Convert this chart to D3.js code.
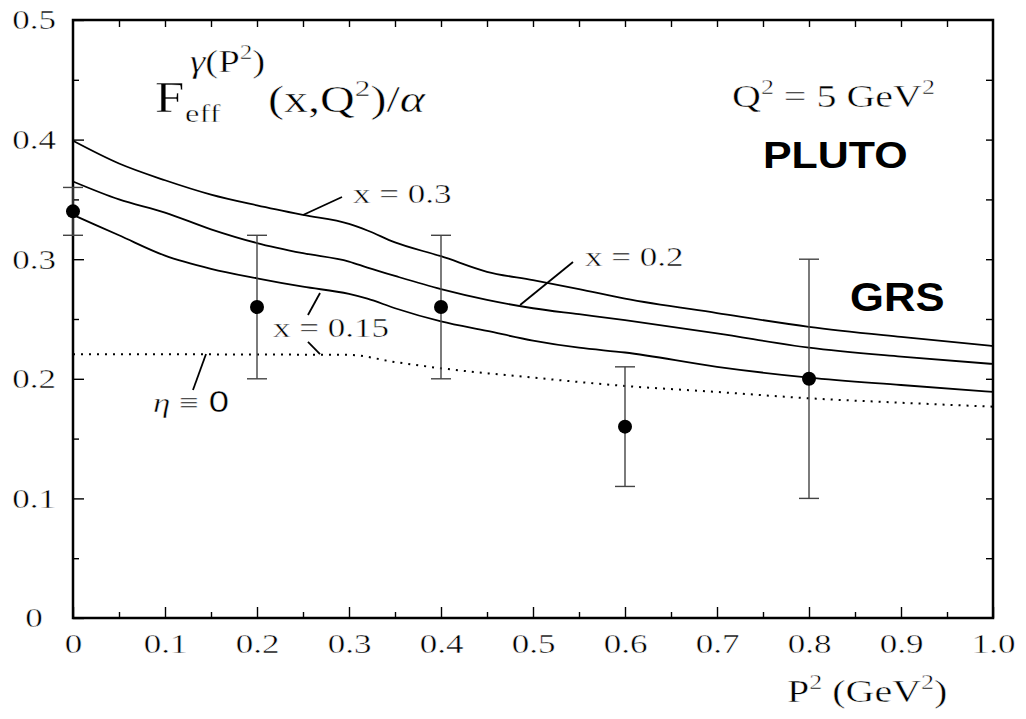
<!DOCTYPE html>
<meta charset="utf-8">
<style>
body { margin: 0; background: #fff; }
text { fill: #000; }
.serif { font-family: "Liberation Serif", "DejaVu Serif", serif; stroke: #fff; stroke-width: 0.45; }
.bold { font-family: "Liberation Sans", Arial, sans-serif; font-weight: bold; }
.sans { font-family: "DejaVu Sans", "Liberation Sans", sans-serif; }
.curve { fill: none; stroke: #000; stroke-width: 1.8; }
.eta { fill: none; stroke: #000; stroke-width: 2; stroke-dasharray: 2,6; }
.err { stroke: #444; stroke-width: 1.4; }
.lead { stroke: #000; stroke-width: 1.8; }
.tick line { stroke: #000; stroke-width: 1.4; }
</style>
<body>
<script src="https://d3js.org/d3.v7.min.js"></script>
<script>

// GRS curves, F_eff/alpha against P^2 at Q^2 = 5 GeV^2
var p2Grid = [0, 0.05, 0.1, 0.15, 0.2, 0.25, 0.3, 0.32, 0.35, 0.4, 0.45, 0.5, 0.55, 0.6, 0.7, 0.8, 0.9, 1.0];
var fx030 = [0.399, 0.380, 0.366, 0.354, 0.345, 0.337, 0.3295, 0.324, 0.314, 0.3025, 0.2895, 0.2825, 0.275, 0.267, 0.255, 0.2435, 0.235, 0.2274];
var fx020 = [0.365, 0.350, 0.339, 0.325, 0.3135, 0.305, 0.298, 0.293, 0.286, 0.275, 0.266, 0.259, 0.254, 0.249, 0.238, 0.226, 0.2185, 0.2124];
var fx015 = [0.337, 0.320, 0.303, 0.292, 0.284, 0.277, 0.271, 0.267, 0.259, 0.248, 0.240, 0.232, 0.226, 0.222, 0.210, 0.201, 0.1948, 0.189];

// eta = 0 curve (dotted)
var etaP2 = [0, 0.1, 0.2, 0.3, 0.35, 0.4, 0.5, 0.6, 0.7, 0.8, 0.9, 1.0];
var etaF = [0.2205, 0.2205, 0.2203, 0.220, 0.214, 0.2088, 0.201, 0.194, 0.189, 0.1837, 0.180, 0.1767];

// PLUTO measurements
var plutoP2 = [0, 0.2, 0.4, 0.6, 0.8];
var plutoF = [0.34, 0.26, 0.26, 0.16, 0.20];
var plutoLo = [0.32, 0.20, 0.20, 0.11, 0.10];
var plutoHi = [0.36, 0.32, 0.32, 0.21, 0.30];

var xTicks = [0, 0.1, 0.2, 0.3, 0.4, 0.5, 0.6, 0.7, 0.8, 0.9, 1.0];
var xTickLabels = ["0", "0.1", "0.2", "0.3", "0.4", "0.5", "0.6", "0.7", "0.8", "0.9", "1.0"];
var yTicks = [0, 0.1, 0.2, 0.3, 0.4, 0.5];
var yTickLabels = ["0", "0.1", "0.2", "0.3", "0.4", "0.5"];

var margin = {top: 20, right: 33, bottom: 101, left: 73},
    width = 1026 - margin.left - margin.right,
    height = 719 - margin.top - margin.bottom;

var sx = 1.25; // horizontal stretch of the lettering

var svg = d3.select("body").append("svg")
    .attr("width", 1026)
    .attr("height", 719);

var g = svg.append("g")
    .attr("transform", "translate(" + margin.left + "," + margin.top + ")");

var x = d3.scaleLinear().domain([0, 1]).range([0, width]);
var y = d3.scaleLinear().domain([0, 0.5]).range([height, 0]);

var minorX = d3.range(0, 1.0001, 0.05).filter(function(v) { return Math.abs(v * 10 - Math.round(v * 10)) > 0.01; });
var minorY = d3.range(0, 0.5001, 0.05).filter(function(v) { return Math.abs(v * 20 % 2 - 1) < 0.01; });
var allX = d3.range(0.05, 0.99, 0.05);
var allY = d3.range(0.05, 0.49, 0.05);

function fmt(labels, ticks) {
  return function(d) { return labels[ticks.indexOf(d)]; };
}

// bottom axis, major with labels
var xAxis = g.append("g")
    .attr("transform", "translate(0," + height + ")")
    .call(d3.axisBottom(x).tickValues(xTicks).tickSize(-11).tickSizeOuter(0)
      .tickPadding(15).tickFormat(fmt(xTickLabels, xTicks)));
xAxis.selectAll("text")
    .attr("class", "serif")
    .attr("font-size", 28)
    .attr("transform", "scale(" + sx + ",1)");
g.append("g")
    .attr("transform", "translate(0," + height + ")")
    .call(d3.axisBottom(x).tickValues(minorX).tickSize(-6).tickSizeOuter(0).tickFormat(""));

// left axis
var yAxis = g.append("g")
    .call(d3.axisLeft(y).tickValues(yTicks).tickSize(-11).tickSizeOuter(0)
      .tickFormat(fmt(yTickLabels, yTicks)));
yAxis.selectAll("text")
    .attr("class", "serif")
    .attr("font-size", 28)
    .attr("text-anchor", "middle")
    .attr("x", -39 / sx)
    .attr("transform", "scale(" + sx + ",1)");
g.append("g")
    .call(d3.axisLeft(y).tickValues(minorY).tickSize(-6).tickSizeOuter(0).tickFormat(""));

// top and right: short inward ticks only
g.append("g")
    .call(d3.axisTop(x).tickValues(allX).tickSize(-7).tickSizeOuter(0).tickFormat(""));
g.append("g")
    .attr("transform", "translate(" + width + ",0)")
    .call(d3.axisRight(y).tickValues(allY).tickSize(-7).tickSizeOuter(0).tickFormat(""));

g.selectAll(".domain").remove();

// frame
g.append("rect")
    .attr("width", width)
    .attr("height", height)
    .attr("fill", "none")
    .attr("stroke", "#000")
    .attr("stroke-width", 2.5);

// curves
var line = d3.line()
    .x(function(d) { return x(d[0]); })
    .y(function(d) { return y(d[1]); })
    .curve(d3.curveMonotoneX);

[fx030, fx020, fx015].forEach(function(vals) {
  g.append("path")
      .attr("class", "curve")
      .attr("d", line(d3.zip(p2Grid, vals)));
});

g.append("path")
    .attr("class", "eta")
    .attr("d", line(d3.zip(etaP2, etaF)));

// error bars and points
var pts = d3.range(plutoP2.length).map(function(i) {
  return {p: plutoP2[i], f: plutoF[i], lo: plutoLo[i], hi: plutoHi[i]};
});

var eb = g.append("g").selectAll("g").data(pts).join("g");
eb.append("line").attr("class", "err")
    .attr("x1", function(d) { return x(d.p); }).attr("x2", function(d) { return x(d.p); })
    .attr("y1", function(d) { return y(d.lo); }).attr("y2", function(d) { return y(d.hi); });
eb.append("line").attr("class", "err")
    .attr("x1", function(d) { return x(d.p) - 10; }).attr("x2", function(d) { return x(d.p) + 10; })
    .attr("y1", function(d) { return y(d.lo); }).attr("y2", function(d) { return y(d.lo); });
eb.append("line").attr("class", "err")
    .attr("x1", function(d) { return x(d.p) - 10; }).attr("x2", function(d) { return x(d.p) + 10; })
    .attr("y1", function(d) { return y(d.hi); }).attr("y2", function(d) { return y(d.hi); });
eb.append("circle")
    .attr("cx", function(d) { return x(d.p); })
    .attr("cy", function(d) { return y(d.f); })
    .attr("r", 7)
    .attr("fill", "#000");

// leader lines, in data units
function lead(a, b, c, d) {
  g.append("line").attr("class", "lead")
      .attr("x1", x(a)).attr("y1", y(b))
      .attr("x2", x(c)).attr("y2", y(d));
}
lead(0.2924, 0.352, 0.25, 0.337);
lead(0.5435, 0.2977, 0.486, 0.2617);
lead(0.2685, 0.2717, 0.2554, 0.2533);
lead(0.2554, 0.2308, 0.2685, 0.2207);
lead(0.1304, 0.1906, 0.1446, 0.2207);

// stretched text helper; (px, py) is the anchor in page pixels
function label(px, py, cls, size, stretch, anchor) {
  return svg.append("g")
      .attr("transform", "translate(" + px + "," + py + ") scale(" + (stretch || sx) + ",1)")
    .append("text")
      .attr("class", cls)
      .attr("font-size", size)
      .attr("text-anchor", anchor || "start");
}
function sup(t, size, str) {
  t.append("tspan").attr("font-size", size * 0.65).attr("dy", -size * 0.42).text(str);
  return t.append("tspan").attr("dy", size * 0.42);
}

var lx = function(v) { return margin.left + x(v); };
var ly = function(v) { return margin.top + y(v); };

label(lx(0.3043), ly(0.347), "serif", 28).text("x = 0.3");
label(lx(0.5565), ly(0.2943), "serif", 28).text("x = 0.2");
label(lx(0.2174), ly(0.235), "serif", 28).text("x = 0.15");

var eta = label(lx(0.087), ly(0.1722), "serif", 28);
eta.append("tspan").attr("font-style", "italic").text("η");
eta.append("tspan").text(" ≡ ");
eta.append("tspan").attr("class", "sans").text("0");

var q = label(lx(0.7163), ly(0.4273), "serif", 32);
q.append("tspan").text("Q");
sup(q, 32, "2").text(" = 5 GeV");
sup(q, 32, "2");

label(lx(0.75), ly(0.376), "bold", 37, 1.16).text("PLUTO");
label(lx(0.8446), ly(0.2567), "bold", 40, 1.09).text("GRS");

// axis title
var at = label(787, 702, "serif", 32);
at.append("tspan").text("P");
sup(at, 32, "2").text(" (GeV");
sup(at, 32, "2").text(")");

// vertical title F_eff^{gamma(P^2)}(x,Q^2)/alpha
label(155, 112, "serif", 44, 1.2).text("F");
label(185, 122, "serif", 25, 1.3).text("eff");
var gp = label(190, 72, "serif", 31);
gp.append("tspan").attr("font-style", "italic").text("γ");
gp.append("tspan").text("(P");
sup(gp, 31, "2").text(")");
var xq = label(268, 112, "serif", 37, 1.3);
xq.append("tspan").text("(x,Q");
sup(xq, 37, "2").text(")/");
xq.append("tspan").attr("font-style", "italic").text("α");

</script>
</body>
